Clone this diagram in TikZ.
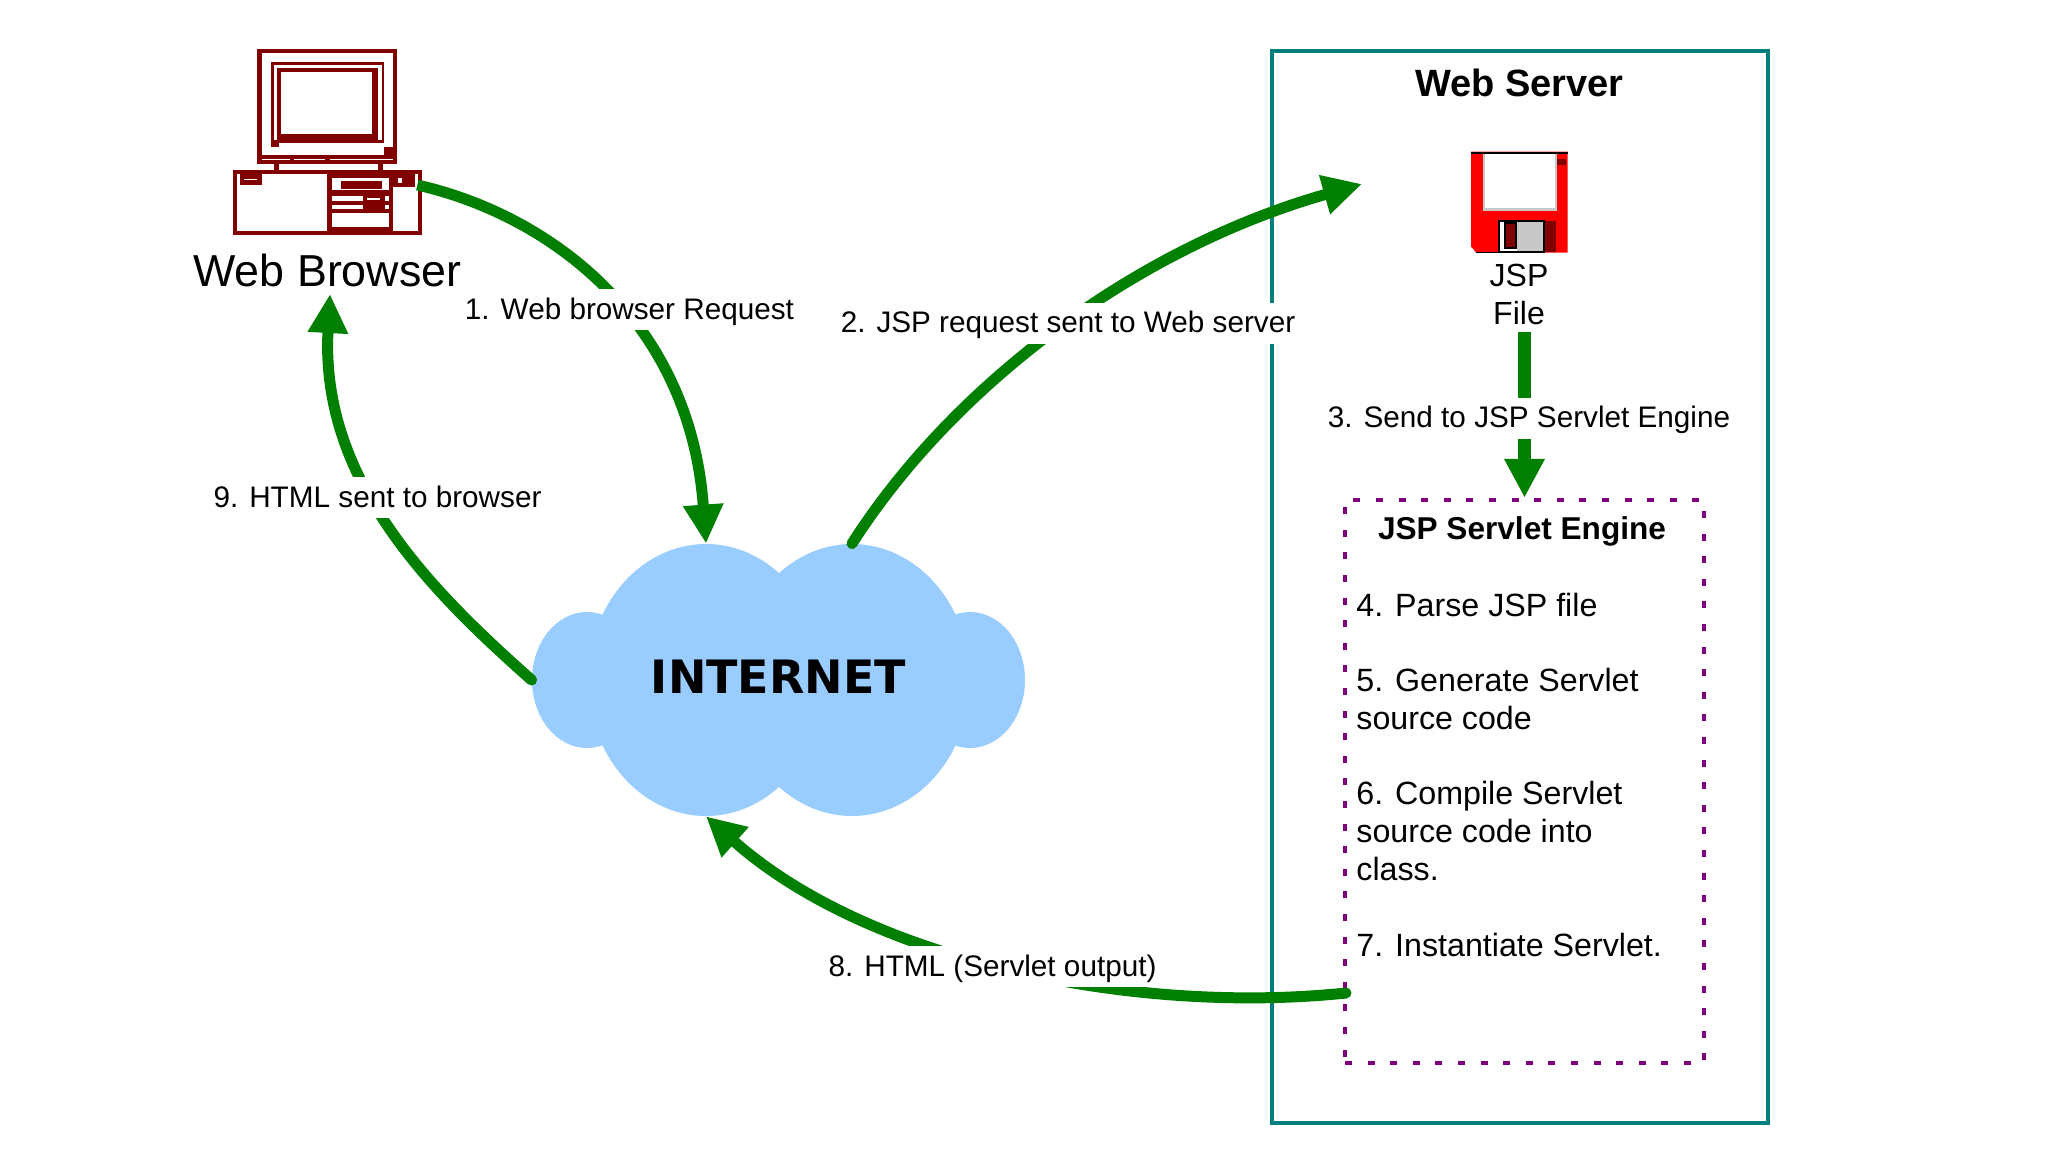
\documentclass[tikz,border=0pt]{standalone}
\usepackage{fontspec}
\setmainfont{Liberation Sans}
\newfontfamily\cloudfont{DejaVu Sans}
\usetikzlibrary{shapes.geometric, arrows.meta, positioning}
\definecolor{mgreen}{HTML}{007F00}
\definecolor{mteal}{HTML}{007F7F}
\definecolor{mpurp}{HTML}{7F007F}
\definecolor{mcloud}{HTML}{99CCFF}
\definecolor{mmaroon}{HTML}{800000}
\definecolor{mshade}{HTML}{C8C8C8}
\tikzstyle{lobe} = [ellipse, inner sep=0pt, fill = mcloud]
\tikzstyle{flow} = [line width=5.5pt, mgreen, -{Triangle[length=19.5pt,width=19pt]}]
\tikzstyle{caption} = [fill = white, inner sep=0pt, minimum height=20.5pt, text height=12.5pt, text depth=3pt, font=\fontsize{14.85}{18}\selectfont]
\tikzstyle{servertitle} = [inner sep=0pt, align=center, font=\bfseries\fontsize{19}{23}\selectfont]
\tikzstyle{filetext} = [inner sep=0pt, align=center, font=\fontsize{16}{19}\selectfont]
\tikzstyle{enginetext} = [inner sep=0pt, align=left, font=\fontsize{16.1}{19}\selectfont]

\begin{document}
\begin{tikzpicture}[x=0.5pt, y=-0.5pt, node distance = 18.3pt]
  \useasboundingbox (0,0) rectangle (2048,1152);

  % web browser computer
  \begin{scope}[shift={(180,30)}, x=0.16667pt, y=-0.16667pt]
    \fill[mmaroon] (232,57) rectangle (652,403);
    \fill[white] (245,70) rectangle (640,375);
    \fill[mmaroon] (272,95) rectangle (612,340);
    \fill[mmaroon] (272,340) rectangle (297,352);
    \fill[white] (283,105) rectangle (605,330);
    \fill[mmaroon] (292,115) rectangle (595,340);
    \fill[white] (303,127) rectangle (575,313);
    \fill[mmaroon] (612,352) rectangle (640,375);
    \fill[white] (245,386) rectangle (330,391);
    \fill[white] (342,386) rectangle (436,391);
    \fill[white] (449,386) rectangle (640,391);
    \fill[mmaroon] (283,403) rectangle (297,420);
    \fill[mmaroon] (595,403) rectangle (608,420);
    \fill[mmaroon] (158,420) rectangle (725,615);
    \fill[white] (172,432) rectangle (442,603);
    \fill[mmaroon] (180,432) rectangle (245,465);
    \fill[white] (192,446) rectangle (232,451);
    \fill[white] (455,445) rectangle (627,480);
    \fill[mmaroon] (482,452) rectangle (607,478);
    \fill[white] (455,498) rectangle (548,512);
    \fill[white] (562,505) rectangle (600,511);
    \fill[white] (615,498) rectangle (627,512);
    \fill[white] (455,525) rectangle (548,537);
    \fill[white] (615,525) rectangle (627,537);
    \fill[white] (455,550) rectangle (627,590);
    \fill[white] (640,472) rectangle (713,603);
    \fill[white] (653,445) rectangle (667,458);
    \fill[white] (705,432) rectangle (713,472);
    \coordinate (pcport) at (712,465);
  \end{scope}
  \node (browser) [inner sep=0pt, font=\fontsize{22.4}{26}\selectfont] at (327.5,270) {Web Browser};

  % the cloud
  \node (lobeleft) [lobe, minimum width=55pt, minimum height=68pt] at (587,680) {};
  \node (loberight) [lobe, minimum width=55pt, minimum height=68pt] at (970,680) {};
  \node (bigleft) [lobe, minimum width=118pt, minimum height=136pt] at (706,680) {};
  \node (bigright) [lobe, minimum width=118pt, minimum height=136pt] at (852,680) {};
  \node (internet) [inner sep=0pt, font=\cloudfont\bfseries\fontsize{23}{26}\selectfont] at (778.5,677) {INTERNET};

  % web server side
  \node (server) [draw = mteal, line width=2pt, minimum width=248pt, minimum height=536pt, inner sep=0pt] at (1520,587) {};
  \node (servername) [servertitle] at (1519.5,83) {Web Server};
  \begin{scope}[shift={(1270,30)}, x=0.16903pt, y=-0.16667pt]
    \fill[red] (595,365) -- (880,365) -- (880,668) -- (610,668) -- (595,650) -- cycle;
    \fill[black] (595,365) rectangle (880,371);
    \fill[mshade] (630,371) rectangle (848,543);
    \fill[white] (637,371) rectangle (842,535);
    \fill[mmaroon] (848,388) rectangle (875,405);
    \fill[black] (675,570) rectangle (812,668);
    \fill[white] (681,577) rectangle (806,662);
    \fill[mshade] (730,577) rectangle (806,662);
    \fill[black] (692,577) rectangle (731,657);
    \fill[mmaroon] (697,582) rectangle (726,652);
    \fill[mmaroon] (812,572) rectangle (845,665);
    \fill[black] (610,665) rectangle (675,668);
  \end{scope}
  \node (jspfile) [filetext] at (1519,294) {JSP\\[0pt]File};
  \node (engine) [draw = mpurp, line width=2.2pt, dash pattern=on 3.5pt off 7.8pt, minimum width=179.5pt, minimum height=281.5pt, inner sep=0pt] at (1524.5,781.5) {};
  \node (enginename) [servertitle, font=\bfseries\fontsize{15.8}{19}\selectfont] at (1522,531.5) {JSP Servlet Engine};
  \node (parse) [enginetext, anchor=west] at (1356,608.5) {\strut 4. Parse JSP file};
  \node (generate) [enginetext, below=of parse.south west, anchor=north west] {\strut 5. Generate Servlet\\\strut source code};
  \node (compile) [enginetext, below=of generate.south west, anchor=north west] {\strut 6. Compile Servlet\\\strut source code into\\\strut class.};
  \node (instantiate) [enginetext, below=of compile.south west, anchor=north west] {\strut 7. Instantiate Servlet.};

  % free ends of the arrows
  \coordinate (browsertip) at (330,294);
  \coordinate (jsptip) at (1362,184);
  \coordinate (sendstart) at (1524.5,332);
  \coordinate (outstart) at (1346,993);

  \draw [flow] (pcport) .. controls (550,215) and (690,320) .. (bigleft.north);
  \draw [flow, line cap=round] (bigright.north) .. controls (950,390) and (1130,250) .. (jsptip);
  \draw [flow, line width=6.3pt] (sendstart) -- (engine.north);
  \draw [flow, line cap=round] (outstart) .. controls (1135,1015) and (870,962) .. (bigleft.south);
  \draw [flow, line cap=round] (lobeleft.west) .. controls (430,590) and (320,480) .. (browsertip);

  % labels on top of the arrows
  \node (step1) [caption] at (629.5,309.5) {1. Web browser Request};
  \node (step2) [caption] at (1068,323) {2. JSP request sent to Web server};
  \node (step3) [caption] at (1529,418) {3. Send to JSP Servlet Engine};
  \node (step8) [caption] at (992.5,966.5) {8. HTML (Servlet output)};
  \node (step9) [caption] at (377.5,497.5) {9. HTML sent to browser};
\end{tikzpicture}
\end{document}
